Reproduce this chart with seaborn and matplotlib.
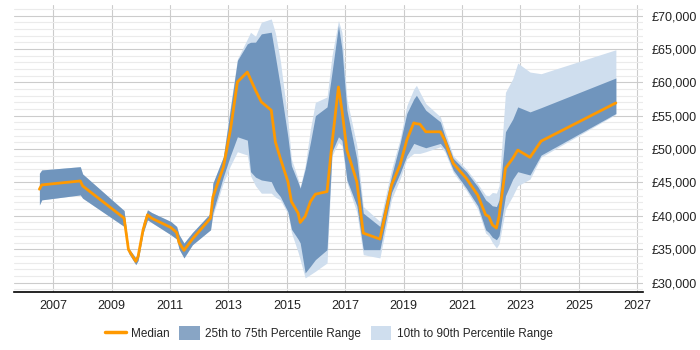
import matplotlib
matplotlib.use("Agg")
import matplotlib.pyplot as plt
from matplotlib.ticker import MultipleLocator, FuncFormatter
from matplotlib.lines import Line2D
from matplotlib.patches import Patch
import seaborn as sns

sns.set_theme(style="white")
plt.rcParams["font.family"] = ["Liberation Sans", "DejaVu Sans"]

# fractional years of each data point
years = [2006.53, 2006.61, 2007.93, 2008.01, 2009.43, 2009.58, 2009.83, 2009.91,
         2010.08, 2010.23, 2010.37, 2011.03, 2011.23, 2011.31, 2011.48, 2011.77,
         2012.39, 2012.47, 2012.83, 2013.07, 2013.31, 2013.65, 2013.76, 2013.93,
         2014.13, 2014.47, 2014.61, 2014.78, 2015.04, 2015.16, 2015.39, 2015.46,
         2015.63, 2015.81, 2015.98, 2016.38, 2016.55, 2016.77, 2016.89, 2017.06,
         2017.40, 2017.62, 2018.19, 2018.59, 2018.88, 2019.11, 2019.35, 2019.44,
         2019.56, 2019.76, 2020.26, 2020.41, 2020.70, 2021.15, 2021.54, 2021.81,
         2021.92, 2022.04, 2022.18, 2022.27, 2022.49, 2022.74, 2022.91, 2023.33,
         2023.71, 2026.27]

median = [43990, 44630, 45220, 44480, 39650, 34930, 33180, 33930,
          37910, 40150, 39650, 38250, 37500, 36010, 34820, 36520,
          39650, 42790, 47300, 52840, 60050, 61540, 60450, 58810,
          57060, 55820, 51090, 48610, 45120, 42130, 40400, 39000,
          39900, 42130, 43240, 43630, 50850, 59300, 55820, 49850,
          45120, 37410, 36520, 44630, 47610, 51340, 53930, 53800,
          53730, 52590, 52590, 51340, 47860, 45620, 43100, 40150,
          39900, 38660, 38160, 39900, 47120, 48610, 49850, 48760,
          51190, 56910]

p25 = [41640, 42390, 43130, 42640, 38410, 34430, 32690, 33300,
       37410, 39400, 39000, 37160, 36520, 35030, 33690, 35670,
       37910, 40500, 45870, 49000, 51840, 51340, 46610, 45800,
       45370, 45120, 43800, 42880, 40600, 38000, 36500, 35930,
       31450, 32440, 33430, 34930, 49600, 51840, 51300, 45370,
       41500, 34930, 34930, 43500, 46370, 49000, 50850, 50700,
       50500, 50200, 50850, 50000, 46870, 44130, 41500, 37910,
       37500, 36800, 36420, 37000, 43000, 45500, 46610, 46120,
       49100, 55330]

p75 = [46370, 46870, 47360, 46270, 40790, 35180, 33700, 34500,
       38900, 40900, 40500, 39150, 38400, 37200, 35920, 37500,
       40400, 44870, 48860, 56000, 63280, 65770, 66000, 66020,
       67260, 67510, 63900, 59400, 51800, 47500, 45000, 44130,
       47000, 51000, 55000, 56320, 61500, 68510, 65000, 55820,
       48500, 40400, 38410, 46000, 50850, 55330, 57500, 58060,
       57200, 55820, 54080, 52000, 48610, 46610, 44380, 42390,
       42000, 41500, 41390, 42390, 52590, 54500, 56320, 55570,
       56200, 60650]

p10 = [41640, 42390, 43130, 42640, 38410, 34430, 32690, 33300,
       37410, 39400, 39000, 37160, 36520, 35030, 33690, 35670,
       37910, 40000, 45000, 47500, 49600, 49100, 46000, 44500,
       43390, 43390, 42800, 42390, 40300, 37500, 34500, 33430,
       30700, 31200, 31690, 32940, 49000, 51000, 50500, 45000,
       40500, 34180, 33690, 42500, 45500, 48500, 49350, 49350,
       49350, 49600, 50350, 49600, 46500, 43800, 41000, 37400,
       37000, 36000, 35180, 35800, 41000, 43000, 44500, 45500,
       48800, 55200]

p90 = [46370, 46870, 47360, 46270, 40790, 35180, 33700, 34500,
       38900, 40900, 40500, 39150, 38400, 37200, 35920, 37500,
       40400, 44870, 48860, 56500, 63500, 66500, 67500, 66900,
       69000, 69500, 67400, 63280, 54300, 48500, 45500, 44300,
       47500, 53000, 57000, 57810, 64000, 69250, 67500, 57500,
       50500, 41390, 39150, 47000, 51500, 56500, 59000, 59550,
       58500, 56820, 54830, 52800, 49000, 47000, 44800, 43100,
       43000, 43500, 43400, 44500, 58500, 60550, 62880, 61540,
       61290, 64880]

year_ticks = list(range(2007, 2028, 2))

light = "#cfdeee"
dark = "#7095bd"
orange = "#ff9900"

fig = plt.figure(figsize=(7, 3.5), dpi=100)
ax = fig.add_axes([0.02, 0.166, 0.8986, 0.82])

ax.fill_between(years, p10, p90, color=light, lw=0)
ax.fill_between(years, p25, p75, color=dark, lw=0)
sns.lineplot(x=years, y=median, ax=ax, color=orange, lw=2, sort=False)

ax.set_xlim(2005.66, 2027.2)
ax.set_ylim(28600, 71600)
ax.set_xticks(year_ticks)
ax.yaxis.set_major_locator(MultipleLocator(5000))
ax.yaxis.set_minor_locator(MultipleLocator(1000))
ax.yaxis.set_major_formatter(FuncFormatter(lambda v, p: f"£{v:,.0f}"))
ax.yaxis.tick_right()

ax.grid(which="major", axis="both", color="#cccccc", lw=0.8)
ax.grid(which="minor", axis="y", color="#ebebeb", lw=0.8)
ax.set_axisbelow(True)

for s in ["top", "left", "right"]:
    ax.spines[s].set_visible(False)
ax.spines["bottom"].set_color("black")
ax.spines["bottom"].set_linewidth(1.2)

ax.tick_params(axis="x", length=0, pad=6, labelsize=9, labelcolor="#222222")
ax.tick_params(axis="y", which="both", length=0, pad=6, labelsize=9, labelcolor="#222222")
ax.set_xlabel("")
ax.set_ylabel("")

handles = [
    Line2D([0], [0], color=orange, lw=2.5),
    Patch(facecolor="#88a5c5", edgecolor="none"),
    Patch(facecolor=light, edgecolor="none"),
]
labels = ["Median", "25th to 75th Percentile Range", "10th to 90th Percentile Range"]
fig.legend(handles, labels, loc="center", bbox_to_anchor=(0.47, 0.048), ncol=3,
           frameon=False, fontsize=8.5, handlelength=1.75, handleheight=1.35,
           columnspacing=0.8, handletextpad=0.45)

plt.savefig("out.png", dpi=100)
plt.close()
